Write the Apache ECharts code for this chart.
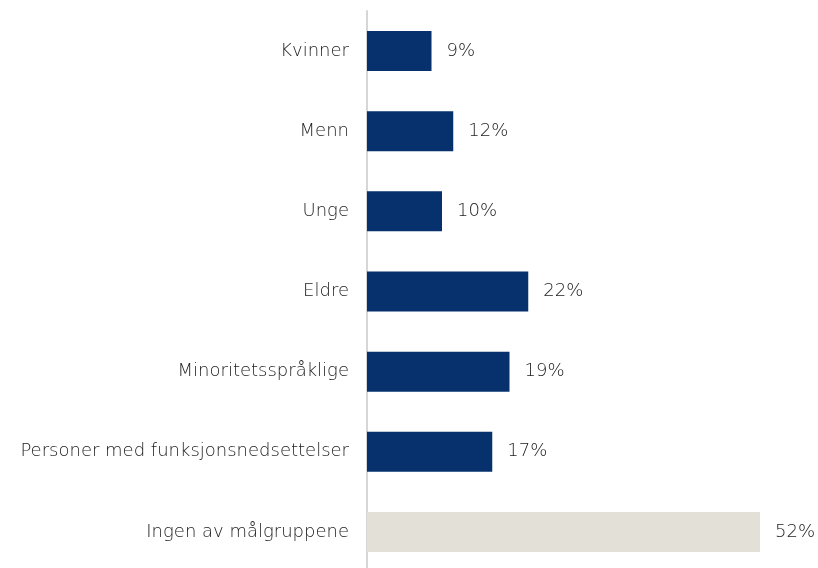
<!DOCTYPE html>
<html>
<head>
<meta charset="utf-8">
<script src="https://cdn.jsdelivr.net/npm/echarts@6/dist/echarts.min.js"></script>
<style>
  html, body { margin: 0; padding: 0; background: #fff; }
  #chart { width: 818px; height: 568px; }
</style>
</head>
<body>
<div id="chart"></div>
<script>
  const categories = [
    'Kvinner',
    'Menn',
    'Unge',
    'Eldre',
    'Minoritetsspråklige',
    'Personer med funksjonsnedsettelser',
    'Ingen av målgruppene'
  ];
  const values = [8.6, 11.5, 10.0, 21.5, 19.0, 16.7, 52.4];
  const highlight = [false, false, false, false, false, false, true];

  const navy = '#06316c';
  const beige = '#e3e0d8';
  const textColor = '#222222';
  const fontFamily = '"DejaVu Sans", sans-serif';

  const chart = echarts.init(document.getElementById('chart'));

  chart.setOption({
    animation: false,
    grid: {
      left: 367,
      width: 450,
      top: 11,
      height: 561,
      outerBoundsMode: 'none'
    },
    xAxis: {
      type: 'value',
      min: 0,
      max: 60,
      show: false
    },
    yAxis: {
      type: 'category',
      data: categories,
      inverse: true,
      axisLine: { show: true, lineStyle: { color: '#d6d6d6', width: 2 } },
      axisTick: { show: false },
      axisLabel: {
        color: textColor,
        fontFamily: fontFamily,
        fontSize: 18,
        fontWeight: 200,
        margin: 18
      }
    },
    series: [
      {
        type: 'bar',
        barWidth: 40,
        data: values.map((v, i) => ({
          value: v,
          itemStyle: { color: highlight[i] ? beige : navy }
        })),
        label: {
          show: true,
          position: 'right',
          distance: 15,
          color: textColor,
          fontFamily: fontFamily,
          fontSize: 18,
          fontWeight: 200,
          formatter: (p) => Math.round(p.value) + '%'
        }
      }
    ]
  });
</script>
</body>
</html>
